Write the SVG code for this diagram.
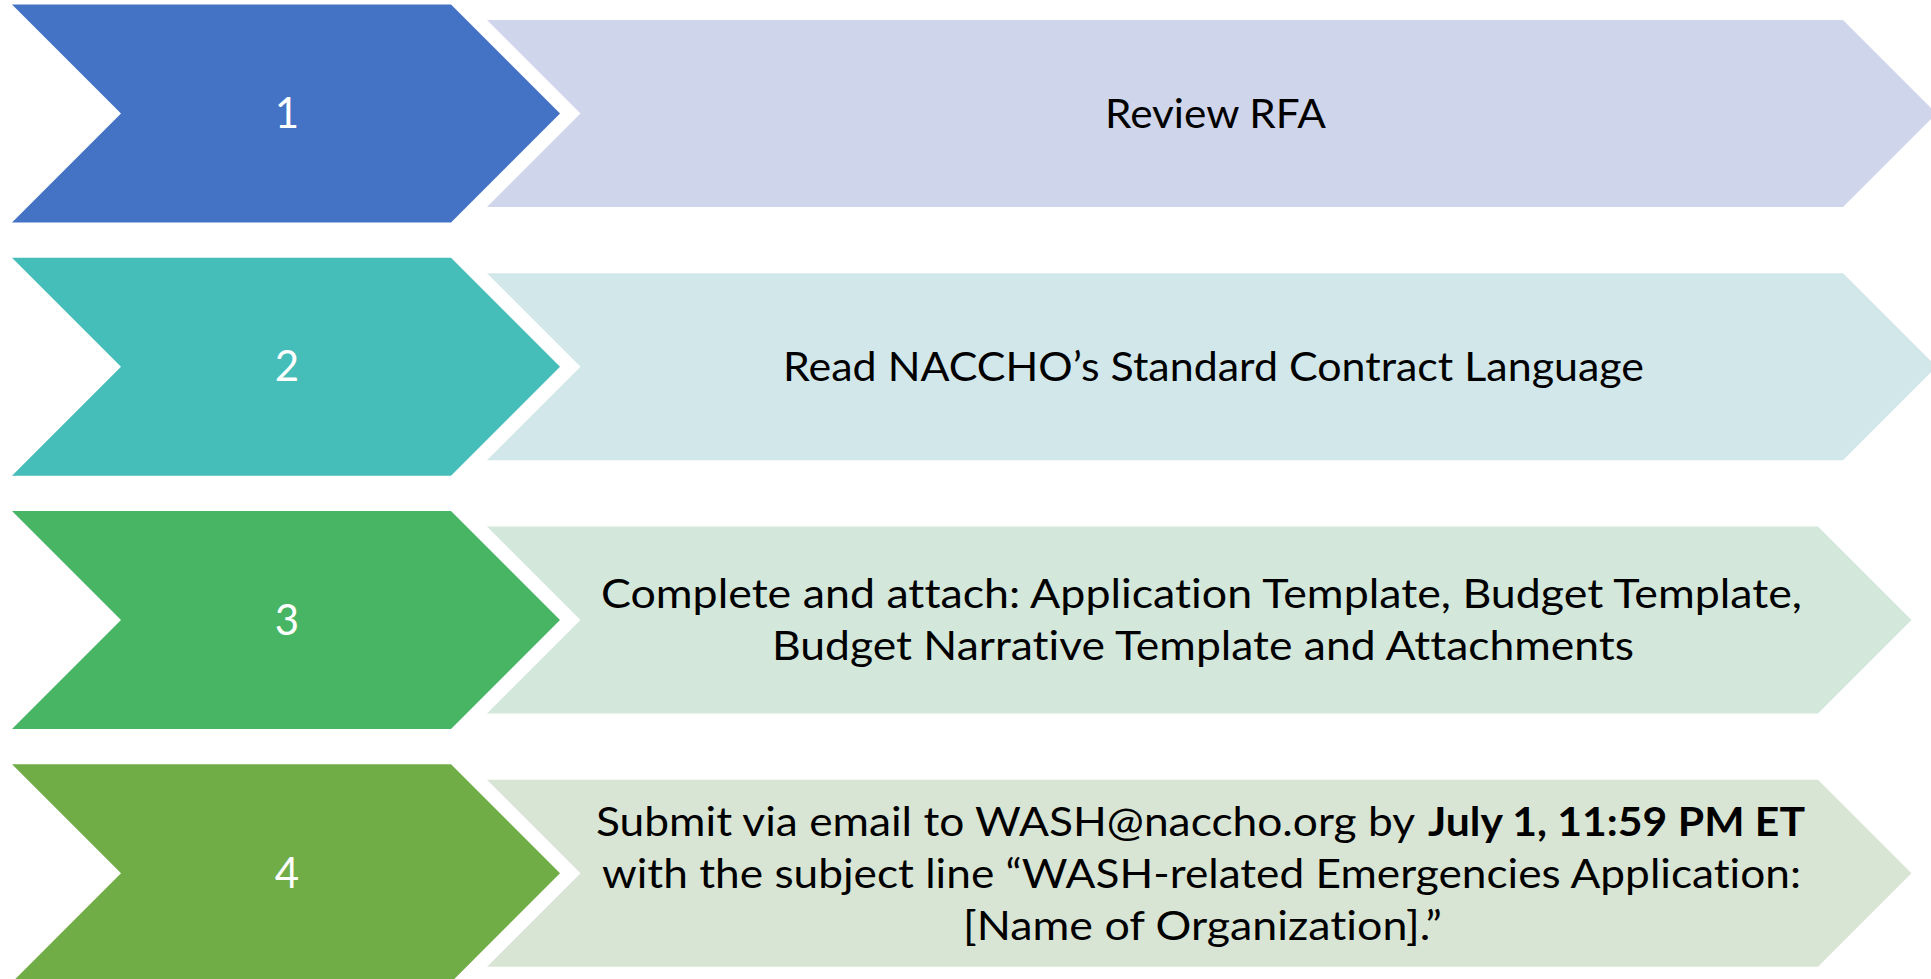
<svg xmlns="http://www.w3.org/2000/svg" width="1931" height="979" viewBox="0 0 1931 979">
  <style>
    text { font-variant-ligatures: none; font-feature-settings: "liga" 0, "clig" 0; }
    .num { font-family: Lato, "Open Sans", sans-serif; font-size: 42px; fill: #ffffff; text-anchor: middle; }
    .lbl { font-family: Lato, "Open Sans", sans-serif; font-size: 41px; fill: #000000; }
    .b { font-weight: bold; }
  </style>
  <rect width="1931" height="979" fill="#ffffff"/>

  <!-- step 1 -->
  <g id="step1">
    <path d="M12,4.5 L451,4.5 L560,113.5 L451,222.5 L12,222.5 L121,113.5 Z" fill="#4472C4"/>
    <text class="num" x="287" y="128">1</text>
  </g>
  <g id="task1">
    <path d="M487,20 L1843,20 L1936.5,113.5 L1843,207 L487,207 L580.5,113.5 Z" fill="#CFD5EA"/>
    <text class="lbl" x="1105" y="127.5" textLength="221" lengthAdjust="spacingAndGlyphs">Review RFA</text>
  </g>

  <!-- step 2 -->
  <g id="step2">
    <path d="M12,257.8 L451,257.8 L560,366.8 L451,475.8 L12,475.8 L121,366.8 Z" fill="#45BDB9"/>
    <text class="num" x="287" y="381.3">2</text>
  </g>
  <g id="task2">
    <path d="M487,273.3 L1843,273.3 L1936.5,366.8 L1843,460.3 L487,460.3 L580.5,366.8 Z" fill="#D2E7EA"/>
    <text class="lbl" x="783" y="380.8" textLength="861" lengthAdjust="spacingAndGlyphs">Read NACCHO’s Standard Contract Language</text>
  </g>

  <!-- step 3 -->
  <g id="step3">
    <path d="M12,511 L451,511 L560,620 L451,729 L12,729 L121,620 Z" fill="#47B563"/>
    <text class="num" x="287" y="634.5">3</text>
  </g>
  <g id="task3">
    <path d="M487,526.5 L1818,526.5 L1911.5,620 L1818,713.5 L487,713.5 L580.5,620 Z" fill="#D3E7DB"/>
    <text class="lbl" x="601" y="608" textLength="1201" lengthAdjust="spacingAndGlyphs">Complete and attach: Application Template, Budget Template,</text>
    <text class="lbl" x="772" y="660" textLength="862" lengthAdjust="spacingAndGlyphs">Budget Narrative Template and Attachments</text>
  </g>

  <!-- step 4 -->
  <g id="step4">
    <path d="M12,764.3 L451,764.3 L560,873.3 L451,982.3 L12,982.3 L121,873.3 Z" fill="#70AD47"/>
    <text class="num" x="287" y="887.8">4</text>
  </g>
  <g id="task4">
    <path d="M487,779.8 L1818,779.8 L1911.5,873.3 L1818,966.8 L487,966.8 L580.5,873.3 Z" fill="#D9E5D4"/>
    <text class="lbl" x="596" y="836" textLength="819" lengthAdjust="spacingAndGlyphs">Submit via email to WASH@naccho.org by</text>
    <text class="lbl b" x="1428" y="836" textLength="377" lengthAdjust="spacingAndGlyphs">July 1, 11:59 PM ET</text>
    <text class="lbl" x="602" y="888" textLength="1199" lengthAdjust="spacingAndGlyphs">with the subject line “WASH-related Emergencies Application:</text>
    <text class="lbl" x="963" y="940" textLength="479" lengthAdjust="spacingAndGlyphs">[Name of Organization].”</text>
  </g>

  <g id="connectors"/>
</svg>
